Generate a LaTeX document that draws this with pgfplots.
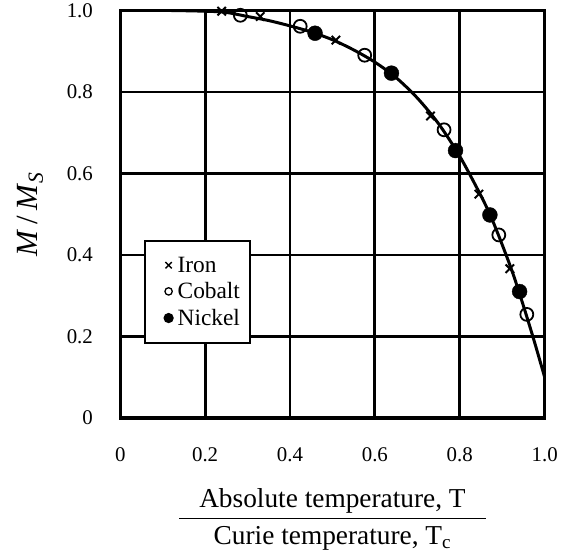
\documentclass[border=0pt]{standalone}
\usepackage{fontspec}
\setmainfont{Liberation Serif}
\usepackage{pgfplots}
\pgfplotsset{compat=1.18}

\begin{document}
\begin{tikzpicture}
  \begin{axis}[
      scale only axis, width=427pt, height=410pt,
      xmin=0, xmax=1, ymin=0, ymax=1,
      xtick={0,0.2,0.4,0.6,0.8,1.0}, ytick={0,0.2,0.4,0.6,0.8,1.0},
      xticklabels={0,0.2,0.4,0.6,0.8,1.0}, yticklabels={0,0.2,0.4,0.6,0.8,1.0},
      major tick length=0pt,
      tick label style={font=\fontsize{21}{24}\selectfont},
      xticklabel style={yshift=-26pt}, yticklabel style={xshift=-24pt},
      grid=major, grid style={black, line width=2.8pt},
      axis line style={line width=3.5pt},
      xlabel={\fontsize{27.5}{32}\selectfont\begin{tabular}{@{\hspace{20pt}}c@{\hspace{20pt}}}Absolute temperature, T\\[1pt]\hline\rule{0pt}{27pt}Curie temperature, T\textsubscript{c}\end{tabular}},
      xlabel style={inner sep=0pt, yshift=-20pt},
      ylabel={\fontsize{31}{36}\selectfont\textit{M}\,/\,\textit{M}\textsubscript{\textit{S}}},
      ylabel style={yshift=17pt},
      legend style={at={(axis cs:0.056,0.437)}, anchor=north west,
        draw=black, line width=2.2pt, font=\fontsize{23.5}{27}\selectfont,
        inner xsep=8pt, inner ysep=14pt, row sep=5pt, cells={anchor=west},
        legend image code/.code={\path[draw=none, fill=none] (0,0) -- (0.8cm,0);
          \draw[#1] plot coordinates {(0.55cm,0)};}},
    ]
    \addplot[black, line width=3pt, smooth, forget plot] coordinates {
      (0,1.0) (0.1,1.0) (0.2,0.998) (0.25,0.995) (0.3,0.985) (0.35,0.975)
      (0.4,0.962) (0.45,0.947) (0.5,0.928) (0.55,0.903) (0.6,0.873)
      (0.65,0.835) (0.7,0.785) (0.75,0.722) (0.8,0.642) (0.85,0.545)
      (0.875,0.49) (0.9,0.425) (0.925,0.355) (0.95,0.275) (0.975,0.19) (1.0,0.10)
    };
    \addplot[only marks, mark=x, mark size=6pt, line width=2pt, black,
      legend image post style={mark size=4.5pt, line width=1.4pt}] coordinates {
      (0.239,0.998) (0.33,0.985) (0.508,0.927) (0.731,0.741) (0.845,0.549) (0.918,0.366)
    };
    \addlegendentry{Iron}
    \addplot[only marks, mark=o, mark size=6.5pt, line width=1.8pt, black, fill=white,
      legend image post style={mark size=3.7pt, line width=1.3pt}] coordinates {
      (0.283,0.988) (0.424,0.961) (0.576,0.890) (0.763,0.707) (0.892,0.449) (0.958,0.254)
    };
    \addlegendentry{Cobalt}
    \addplot[only marks, mark=*, mark size=7.5pt, black,
      legend image post style={mark size=4pt}] coordinates {
      (0.459,0.944) (0.639,0.846) (0.79,0.656) (0.871,0.498) (0.941,0.31)
    };
    \addlegendentry{Nickel}
  \end{axis}
  % keep the empty margin at the left, as in the reference
  \path ([xshift=-121pt]current axis.south west) -- (current axis.south west);
\end{tikzpicture}
\end{document}
